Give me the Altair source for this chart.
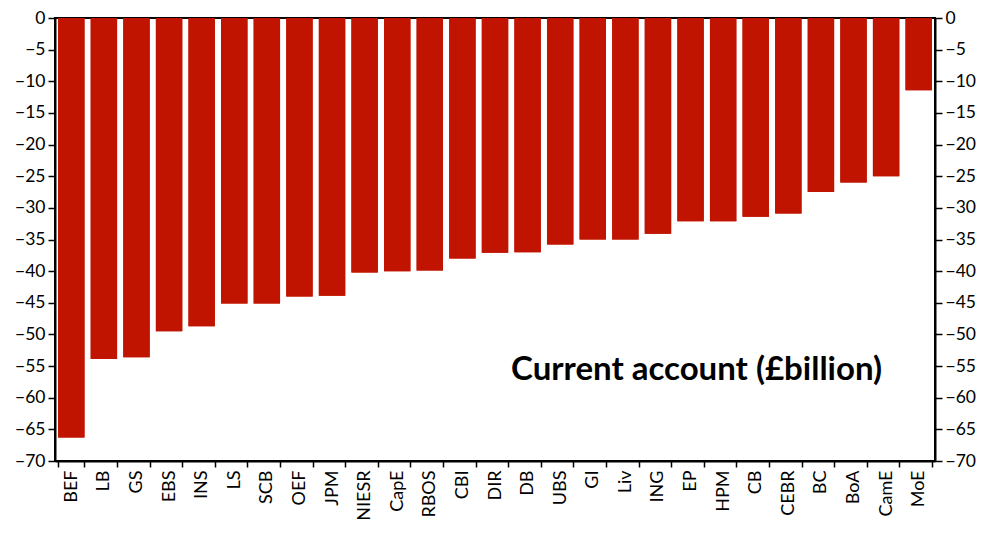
import altair as alt
import pandas as pd

categories = ["BEF", "LB", "GS", "EBS", "INS", "LS", "SCB", "OEF", "JPM", "NIESR",
              "CapE", "RBOS", "CBI", "DIR", "DB", "UBS", "GI", "Liv", "ING", "EP",
              "HPM", "CB", "CEBR", "BC", "BoA", "CamE", "MoE"]
values = [-66.3, -53.9, -53.6, -49.5, -48.7, -45.1, -45.1, -44.0, -43.9, -40.2,
          -40.0, -39.9, -38.0, -37.1, -37.0, -35.8, -35.0, -35.0, -34.1, -32.1,
          -32.1, -31.4, -30.9, -27.5, -26.0, -25.0, -11.4]
y_ticks = [0, -5, -10, -15, -20, -25, -30, -35, -40, -45, -50, -55, -60, -65, -70]
label_text = ["Current account (£billion)"]
label_cat = ["EP"]
label_val = [-55.6]

df = pd.DataFrame({"cat": categories, "val": values})
lab = pd.DataFrame({"cat": label_cat, "val": label_val, "txt": label_text})

FONT = "Lato"
RED = "#C11400"

xscale = alt.Scale(domain=categories, paddingInner=0.19, paddingOuter=0.095)
yscale = alt.Scale(domain=[-70, 0], nice=False, zero=False)

xaxis = alt.Axis(title=None, labelAngle=-90, labelFontSize=18, labelFont=FONT,
                 labelColor="black", tickBand="extent", tickSize=6, tickWidth=1.5,
                 tickColor="black", domainColor="black", domainWidth=2,
                 labelPadding=3, labelBaseline="middle", labelAlign="right")

def yaxis(orient):
    return alt.Axis(title=None, orient=orient, values=y_ticks, labelFontSize=17.5,
                    labelFont=FONT, labelColor="black", tickSize=7, tickWidth=1.5,
                    tickColor="black", domainColor="black", domainWidth=2,
                    labelPadding=3, grid=False)

bars = alt.Chart(df).mark_bar(color=RED).encode(
    x=alt.X("cat:N", sort=categories, scale=xscale, axis=xaxis),
    y=alt.Y("val:Q", scale=yscale, axis=yaxis("left")),
)

bars_right = alt.Chart(df).mark_bar(color=RED).encode(
    x=alt.X("cat:N", sort=categories, scale=xscale, axis=xaxis),
    y=alt.Y("val:Q", scale=yscale, axis=yaxis("right")),
)

text = alt.Chart(lab).mark_text(font=FONT, fontSize=33, fontWeight="bold",
                                color="black", baseline="middle", dx=6).encode(
    x=alt.X("cat:N", sort=categories, scale=xscale, axis=xaxis),
    y=alt.Y("val:Q", scale=yscale, axis=None),
    text="txt:N",
)

chart = alt.layer(bars, bars_right, text).resolve_scale(y="independent").properties(
    width=880, height=443,
    autosize=alt.AutoSizeParams(type="none"),
    padding={"left": 47, "top": 10, "right": 41, "bottom": 71},
).configure_view(stroke="black", strokeWidth=2)

chart.save("out.html", embed_options={"renderer": "svg", "actions": False})
